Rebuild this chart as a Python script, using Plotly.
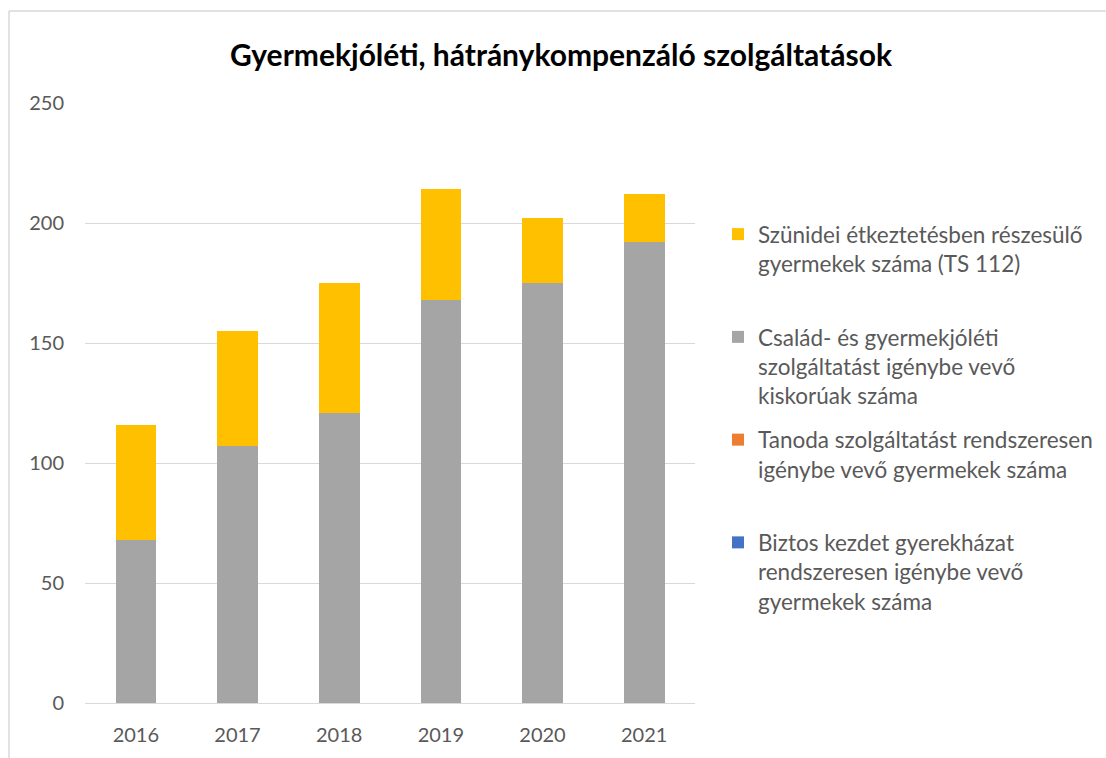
import plotly.graph_objects as go

years = ["2016", "2017", "2018", "2019", "2020", "2021"]
biztos = [0, 0, 0, 0, 0, 0]
tanoda = [0, 0, 0, 0, 0, 0]
csalad = [68, 107, 121, 168, 175, 192]
szunidei = [48, 48, 54, 46, 27, 20]

names = {
    "biztos": "Biztos kezdet gyerekházat<br>rendszeresen igénybe vevő<br>gyermekek száma",
    "tanoda": "Tanoda szolgáltatást rendszeresen<br>igénybe vevő gyermekek száma<br> ",
    "csalad": "Család- és gyermekjóléti<br>szolgáltatást igénybe vevő<br>kiskorúak száma",
    "szunidei": "Szünidei étkeztetésben részesülő<br>gyermekek száma (TS 112)<br> ",
}
colors = {"biztos": "#4472C4", "tanoda": "#ED7D31", "csalad": "#A5A5A5", "szunidei": "#FFC000"}
ranks = {"szunidei": 1, "csalad": 2, "tanoda": 3, "biztos": 4}
series = [("biztos", biztos), ("tanoda", tanoda), ("csalad", csalad), ("szunidei", szunidei)]

FONT = "Lato"
TXT = "#595959"

fig = go.Figure()
for key, vals in series:
    fig.add_trace(go.Bar(
        x=years, y=vals, name=names[key], legendgroup=key, legendrank=ranks[key],
        marker=dict(color=colors[key], line=dict(width=0)),
    ))

W, H = 1106, 758
L, R, T, B = 85, 411, 103, 55
pw = W - L - R
ph = H - T - B

def px_x(x):
    return (x - L) / pw

def px_y(y):
    return (H - B - y) / ph

fig.update_layout(
    width=W, height=H,
    margin=dict(l=L, r=R, t=T, b=B, autoexpand=False),
    paper_bgcolor="white", plot_bgcolor="white",
    barmode="stack", bargap=0.6,
    font=dict(family=FONT, color=TXT, size=20),
    title=dict(text="<b>Gyermekjóléti, hátránykompenzáló szolgáltatások</b>",
               x=561 / W, xanchor="center", y=1 - 55 / H, yanchor="middle",
               font=dict(family=FONT, size=30, color="#000000")),
    legend=dict(x=px_x(718), xanchor="left", y=px_y(213), yanchor="top",
                traceorder="grouped", tracegroupgap=12, valign="top",
                font=dict(family=FONT, size=22.5, color=TXT),
                bgcolor="rgba(0,0,0,0)"),
    xaxis=dict(showgrid=False, showline=False, ticks="", ticklabelstandoff=18,
               tickfont=dict(family=FONT, size=20, color=TXT)),
    yaxis=dict(range=[0, 250], dtick=50, showgrid=True, gridcolor="#D9D9D9", gridwidth=1,
               zeroline=True, zerolinecolor="#D9D9D9", zerolinewidth=1,
               showline=False, ticks="", ticklabelstandoff=20,
               tickfont=dict(family=FONT, size=20, color=TXT)),
    shapes=[
        dict(type="line", xref="paper", yref="paper", x0=px_x(9), x1=px_x(1110),
             y0=px_y(11), y1=px_y(11), line=dict(color="#D9D9D9", width=1.5)),
        dict(type="line", xref="paper", yref="paper", x0=px_x(9), x1=px_x(9),
             y0=px_y(11), y1=px_y(765), line=dict(color="#D9D9D9", width=1.5)),
    ],
)

fig.write_html("out.html", config={"displayModeBar": False},
               post_script="document.body.style.margin='0';")
